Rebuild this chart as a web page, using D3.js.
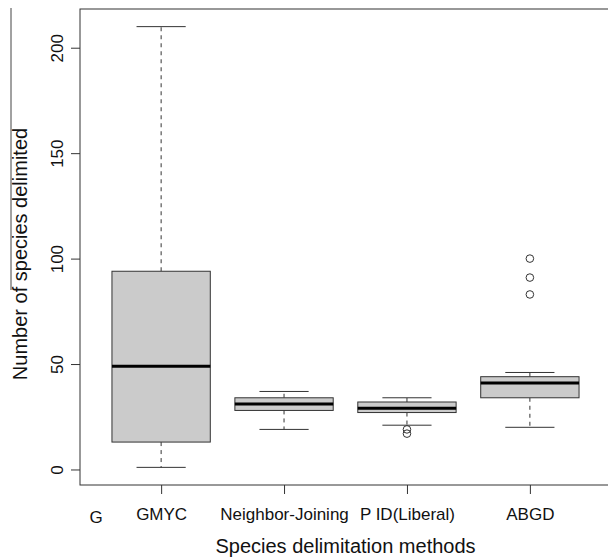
<!DOCTYPE html>
<html>
<head>
<meta charset="utf-8">
<script src="https://cdn.jsdelivr.net/npm/d3@7"></script>
<style>
  body { margin: 0; background: #fff; }
  text { font-family: "Liberation Sans", Arial, sans-serif; fill: #111; }
</style>
</head>
<body>
<div class="chart"></div>
<script>
const WIDTH = 608;
const HEIGHT = 558;

// plot region (R style: 4% padding around the data range)
const LEFT = 80, RIGHT = 611, TOP = 9, BOTTOM = 485;

var categories = ["GMYC", "Neighbor-Joining", "P ID(Liberal)", "ABGD"];
var whiskerLow = [1, 19, 21, 20];
var q1 = [13, 28, 27, 34];
var median = [49, 31, 29, 41];
var q3 = [94, 34, 32, 44];
var whiskerHigh = [210, 37, 34, 46];
var outliers = [[], [], [19, 17], [100, 91, 83]];
var yTicks = [0, 50, 100, 150, 200];

var data = categories.map(function (c, i) {
    return {
        name: c, pos: i + 1,
        lo: whiskerLow[i], q1: q1[i], med: median[i], q3: q3[i], hi: whiskerHigh[i],
        out: outliers[i]
    };
});

var translate = function (x, y) {
    return "translate(" + x + "," + y + ")";
};

var _svg = d3.select('.chart').append('svg')
    .attr('width', WIDTH)
    .attr('height', HEIGHT);

var _xScale = d3.scaleLinear()
    .domain([0.34, 4.66])
    .range([LEFT, RIGHT]);

var _yScale = d3.scaleLinear()
    .domain([-7.36, 218.36])
    .range([BOTTOM, TOP]);

var LINE = "#333";
var BOXW = 0.4;   // half box width, in x units
var CAPW = 0.2;   // half staple width

// boxes
var g = _svg.append('g').attr('class', 'boxes');
var box = g.selectAll('g.box').data(data).enter().append('g').attr('class', 'box');

// whiskers (dashed)
box.append('line')
    .attr('x1', d => _xScale(d.pos)).attr('x2', d => _xScale(d.pos))
    .attr('y1', d => _yScale(d.q3)).attr('y2', d => _yScale(d.hi))
    .attr('stroke', LINE).attr('stroke-dasharray', '4,4');
box.append('line')
    .attr('x1', d => _xScale(d.pos)).attr('x2', d => _xScale(d.pos))
    .attr('y1', d => _yScale(d.q1)).attr('y2', d => _yScale(d.lo))
    .attr('stroke', LINE).attr('stroke-dasharray', '4,4');

// staples
box.append('line')
    .attr('x1', d => _xScale(d.pos - CAPW)).attr('x2', d => _xScale(d.pos + CAPW))
    .attr('y1', d => _yScale(d.hi)).attr('y2', d => _yScale(d.hi))
    .attr('stroke', LINE);
box.append('line')
    .attr('x1', d => _xScale(d.pos - CAPW)).attr('x2', d => _xScale(d.pos + CAPW))
    .attr('y1', d => _yScale(d.lo)).attr('y2', d => _yScale(d.lo))
    .attr('stroke', LINE);

// box body
box.append('rect')
    .attr('x', d => _xScale(d.pos - BOXW))
    .attr('width', d => _xScale(d.pos + BOXW) - _xScale(d.pos - BOXW))
    .attr('y', d => _yScale(d.q3))
    .attr('height', d => _yScale(d.q1) - _yScale(d.q3))
    .attr('fill', '#cbcbcb')
    .attr('stroke', LINE);

// median
box.append('line')
    .attr('x1', d => _xScale(d.pos - BOXW)).attr('x2', d => _xScale(d.pos + BOXW))
    .attr('y1', d => _yScale(d.med)).attr('y2', d => _yScale(d.med))
    .attr('stroke', '#000').attr('stroke-width', 3);

// outliers
box.selectAll('circle')
    .data(d => d.out.map(v => ({ pos: d.pos, v: v })))
    .enter().append('circle')
    .attr('cx', d => _xScale(d.pos))
    .attr('cy', d => _yScale(d.v))
    .attr('r', 3.8)
    .attr('fill', 'none')
    .attr('stroke', LINE);

// frame
_svg.append('rect')
    .attr('x', LEFT).attr('y', TOP)
    .attr('width', RIGHT - LEFT).attr('height', BOTTOM - TOP)
    .attr('fill', 'none').attr('stroke', LINE);

// y axis
var yAxis = d3.axisLeft(_yScale).tickValues(yTicks).tickSize(9).tickPadding(0);
var ya = _svg.append('g')
    .attr('transform', translate(LEFT, 0))
    .call(yAxis);
ya.select('.domain').remove();
ya.selectAll('.tick line').attr('stroke', LINE);
ya.selectAll('.tick text')
    .attr('x', null).attr('dy', null)
    .attr('transform', 'translate(-17,0) rotate(-90)')
    .attr('text-anchor', 'middle')
    .style('font-size', '17px')
    .style('font-family', '"Liberation Sans", Arial, sans-serif')
    .attr('fill', '#111');

// x axis
var xAxis = d3.axisBottom(_xScale).tickValues(data.map(d => d.pos))
    .tickFormat((d, i) => categories[i]).tickSize(9).tickPadding(0);
var xa = _svg.append('g')
    .attr('transform', translate(0, BOTTOM))
    .call(xAxis);
xa.select('.domain').remove();
xa.selectAll('.tick line').attr('stroke', LINE);
xa.selectAll('.tick text')
    .attr('y', 35).attr('dy', null)
    .style('font-size', '17px')
    .style('font-family', '"Liberation Sans", Arial, sans-serif')
    .attr('fill', '#111');

// stray label left of the first category
_svg.append('text')
    .attr('x', 96).attr('y', 523)
    .attr('text-anchor', 'middle')
    .style('font-size', '17px')
    .text('G');

// axis titles
_svg.append('text')
    .attr('x', (LEFT + RIGHT) / 2).attr('y', 553)
    .attr('text-anchor', 'middle')
    .style('font-size', '20px')
    .text('Species delimitation methods');

_svg.append('text')
    .attr('transform', translate(27, 254) + ' rotate(-90)')
    .attr('text-anchor', 'middle')
    .style('font-size', '20px')
    .text('Number of species delimited');

// thin leftover rule along the y title
_svg.append('line')
    .attr('x1', 11).attr('x2', 11)
    .attr('y1', 8).attr('y2', 290)
    .attr('stroke', '#444');
</script>
</body>
</html>
